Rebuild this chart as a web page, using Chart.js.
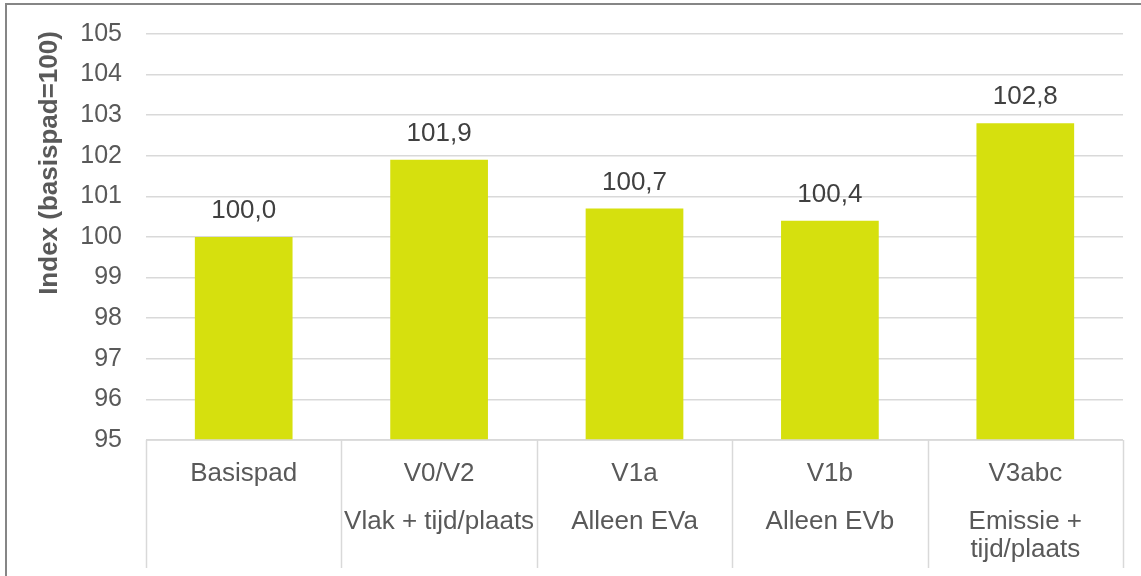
<!DOCTYPE html>
<html>
<head>
<meta charset="utf-8">
<script src="https://cdn.jsdelivr.net/npm/chart.js@4/dist/chart.umd.min.js"></script>
<style>
  html, body { margin: 0; padding: 0; background: #ffffff; }
  #wrap { position: relative; width: 1141px; height: 576px; }
</style>
</head>
<body>
<div id="wrap"><canvas id="c" width="1141" height="576"></canvas></div>
<script>
// ---- data ----
const categories = ['Basispad', 'V0/V2', 'V1a', 'V1b', 'V3abc'];
const subLabels = [[], ['Vlak + tijd/plaats'], ['Alleen EVa'], ['Alleen EVb'], ['Emissie +', 'tijd/plaats']];
const values = [100.0, 101.9, 100.7, 100.4, 102.8];
const yTitle = 'Index (basispad=100)';
const yMin = 95, yMax = 105, yStep = 1;

const FONT = "'Liberation Sans', Arial, sans-serif";
const TXT = '#595959';
const GRID = '#d9d9d9';

const decor = {
  id: 'decor',
  beforeDraw(chart) {
    const ctx = chart.ctx;
    ctx.save();
    ctx.strokeStyle = '#868686';
    ctx.lineWidth = 2;
    ctx.beginPath();
    ctx.moveTo(6, 576); ctx.lineTo(6, 4); ctx.lineTo(1141, 4);
    ctx.stroke();
    ctx.restore();
  },
  afterDraw(chart) {
    const ctx = chart.ctx;
    const x = chart.scales.x;
    const area = chart.chartArea;
    ctx.save();
    // x axis line and category separators
    ctx.strokeStyle = GRID;
    ctx.lineWidth = 1.5;
    ctx.beginPath();
    ctx.moveTo(area.left, area.bottom); ctx.lineTo(area.right, area.bottom);
    const n = categories.length;
    const w = (area.right - area.left) / n;
    for (let i = 0; i <= n; i++) {
      const px = Math.round(area.left + i * w) + 0.5;
      ctx.moveTo(px, area.bottom); ctx.lineTo(px, 568);
    }
    ctx.stroke();
    // x labels
    ctx.fillStyle = TXT;
    ctx.font = '26px ' + FONT;
    ctx.textAlign = 'center';
    ctx.textBaseline = 'middle';
    categories.forEach((c, i) => {
      const cx = x.getPixelForValue(i);
      ctx.fillText(c, cx, 474);
      subLabels[i].forEach((s, j) => ctx.fillText(s, cx, 522 + j * 28));
    });
    // data labels
    ctx.fillStyle = '#404040';
    chart.getDatasetMeta(0).data.forEach((bar, i) => {
      ctx.fillText(values[i].toFixed(1).replace('.', ','), bar.x, bar.y - 26);
    });
    // y title
    ctx.fillStyle = TXT;
    ctx.font = 'bold 26px ' + FONT;
    ctx.translate(50, 163);
    ctx.rotate(-Math.PI / 2);
    ctx.fillText(yTitle, 0, 0);
    ctx.restore();
  }
};

new Chart(document.getElementById('c'), {
  type: 'bar',
  data: {
    labels: categories,
    datasets: [{
      data: values,
      backgroundColor: '#d6e00e',
      borderWidth: 0,
      barPercentage: 0.5,
      categoryPercentage: 1.0
    }]
  },
  options: {
    responsive: false,
    animation: false,
    layout: { padding: { top: 34, right: 18, left: 0, bottom: 0 } },
    plugins: { legend: { display: false }, tooltip: { enabled: false }, title: { display: false } },
    scales: {
      x: {
        grid: { display: false },
        border: { display: false },
        ticks: { display: false },
        afterFit(s) { s.height = 576 - 440; s.paddingLeft = 0; s.paddingRight = 0; }
      },
      y: {
        min: yMin, max: yMax,
        ticks: { stepSize: yStep, color: TXT, font: { family: FONT, size: 25 }, padding: 24 },
        grid: { color: GRID, lineWidth: 1.5, drawTicks: false },
        border: { display: false },
        afterFit(s) { s.width = 146; s.paddingTop = 0; s.paddingBottom = 0; }
      }
    }
  },
  plugins: [decor]
});
</script>
</body>
</html>
